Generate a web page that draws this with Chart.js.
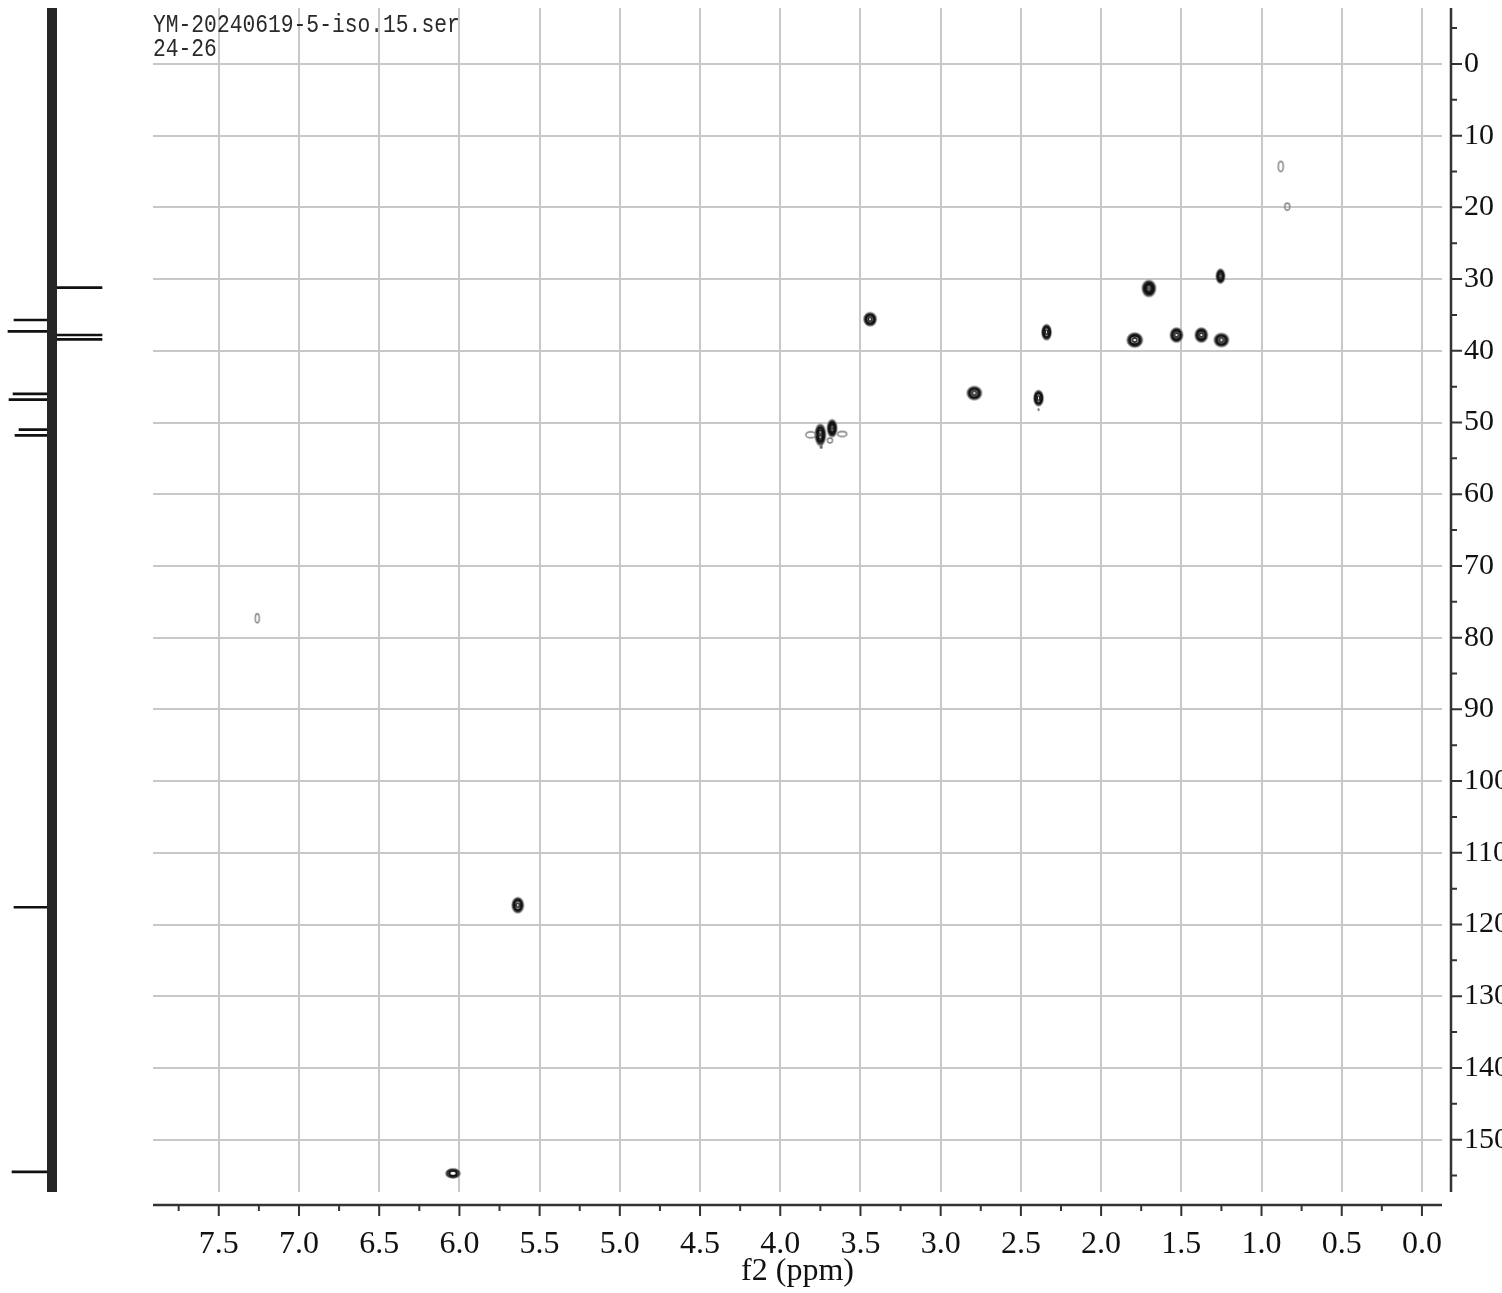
<!DOCTYPE html>
<html>
<head>
<meta charset="utf-8">
<script src="https://cdn.jsdelivr.net/npm/chart.js@4.4.1/dist/chart.umd.min.js"></script>
<style>
  html, body { margin: 0; padding: 0; background: #ffffff; }
  body { width: 1502px; height: 1293px; position: relative; overflow: hidden; }
  #main { position: absolute; left: 0; top: 0; }
  #proj { position: absolute; left: 0; top: 8px; }
  #label { position: absolute; left: 153px; top: 13px; font-family: "Liberation Mono", monospace;
           font-size: 21.3px; line-height: 19px; color: #2a2a2a; white-space: pre;
           transform: scaleY(1.25); transform-origin: 0 0; }
</style>
</head>
<body>
<canvas id="proj" width="150" height="1184"></canvas>
<canvas id="main" width="1502" height="1293"></canvas>
<div id="label">YM-20240619-5-iso.15.ser
24-26</div>
<script>
// ---------- data ----------
// HSQC cross peaks: f2 (1H, ppm) and f1 (13C, ppm)
const peakF2 = [0.88, 0.84, 1.256, 1.702, 3.44, 2.34, 1.79, 1.53, 1.375, 1.25, 2.79, 2.39, 2.39, 3.75, 3.677, 3.81, 3.614, 3.69, 3.745, 7.26, 5.636, 6.04];
const peakF1 = [14.3, 19.9, 29.6, 31.3, 35.6, 37.4, 38.5, 37.8, 37.8, 38.5, 45.9, 46.6, 48.2, 51.7, 50.8, 51.7, 51.6, 52.5, 53.4, 77.3, 117.3, 154.7];

// 1D 13C projection (left): peak positions (ppm) and signed intensities (arb.)
const projF1 = [31.2, 35.7, 37.3, 37.8, 38.4, 46.0, 46.8, 51.0, 51.8, 117.6, 154.5];
const projInt = [50, -38, -44, 50, 50, -39, -43, -33, -37, -38, -40];

// axis ticks
const xMajor = [7.5, 7.0, 6.5, 6.0, 5.5, 5.0, 4.5, 4.0, 3.5, 3.0, 2.5, 2.0, 1.5, 1.0, 0.5, 0.0];
const xMinor = [7.75, 7.25, 6.75, 6.25, 5.75, 5.25, 4.75, 4.25, 3.75, 3.25, 2.75, 2.25, 1.75, 1.25, 0.75, 0.25];
const yMajor = [0, 10, 20, 30, 40, 50, 60, 70, 80, 90, 100, 110, 120, 130, 140, 150];
const yMinor = [-5, 5, 15, 25, 35, 45, 55, 65, 75, 85, 95, 105, 115, 125, 135, 145, 155];

const xRange = [-0.125, 7.91];
const yRange = [-7.8, 157.3];

// ---------- styles (contour glyph sizes in px, number of contour levels) ----------
const peakStyle = [
  [5, 10, 1], [5, 7, 1], [8, 14, 3], [13, 16, 4], [12, 13, 3], [9, 15, 3], [15, 14, 3], [12, 14, 3],
  [12, 14, 3], [14, 13, 3], [14, 13, 3], [9, 15, 3], [2, 3, 0], [10, 21, 4], [9, 17, 4], [10, 6, 1],
  [9, 5, 1], [5, 5, 1], [3, 4, 0], [4, 9, 1], [11, 15, 3], [14, 9, 2]
];

function contourGlyph(w, h, levels) {
  const pad = 3;
  const c = document.createElement('canvas');
  c.width = Math.ceil(w + pad * 2);
  c.height = Math.ceil(h + pad * 2);
  const g = c.getContext('2d');
  const cx = c.width / 2, cy = c.height / 2;
  const ring = (f, color, lw) => {
    g.strokeStyle = color; g.lineWidth = lw;
    g.beginPath();
    g.ellipse(cx, cy, Math.max(0.7, (w / 2) * f), Math.max(0.7, (h / 2) * f), 0, 0, Math.PI * 2);
    g.stroke();
  };
  if (levels === 0) {
    g.fillStyle = '#666';
    g.beginPath(); g.ellipse(cx, cy, w / 2, h / 2, 0, 0, Math.PI * 2); g.fill();
    return c;
  }
  if (levels === 1) { ring(1, '#777', 1.3); return c; }
  ring(1, '#808080', 1.6);
  ring(0.85, '#333', 1.6);
  if (levels === 2) { ring(0.55, '#111', 2.2); return c; }
  ring(0.66, '#111', 2.6);
  if (levels === 3) { ring(0.3, '#222', 1.6); return c; }
  ring(0.42, '#111', 1.8);
  ring(0.16, '#333', 1.2);
  return c;
}
const glyphs = peakStyle.map(s => contourGlyph(s[0], s[1], s[2]));

// ---------- left projection ----------
new Chart(document.getElementById('proj'), {
  type: 'bar',
  data: {
    datasets: [
      {
        type: 'line',
        data: [{ x: 0, y: yRange[0] }, { x: 0, y: yRange[1] }],
        borderColor: '#262626', borderWidth: 10, pointRadius: 0
      },
      {
        type: 'bar',
        data: projF1.map((f, i) => ({ y: f, x: projInt[i] })),
        backgroundColor: '#111', barThickness: 2
      }
    ]
  },
  options: {
    indexAxis: 'y',
    responsive: false, animation: false,
    layout: { padding: 0 },
    plugins: { legend: { display: false }, tooltip: { enabled: false } },
    scales: {
      x: { type: 'linear', min: -52, max: 98, display: false },
      y: { type: 'linear', reverse: true, offset: false, min: yRange[0], max: yRange[1], display: false }
    }
  }
});

// ---------- main 2D plot ----------
const offsetAxes = {
  id: 'offsetAxes',
  afterDraw(chart) {
    const { ctx, chartArea: ca, scales: { x, y } } = chart;
    ctx.save();
    ctx.strokeStyle = '#333';
    ctx.lineWidth = 2.5;
    const axY = ca.bottom + 13;
    ctx.beginPath();
    ctx.moveTo(ca.left, axY); ctx.lineTo(ca.right, axY);
    ctx.stroke();
    ctx.lineWidth = 2;
    ctx.beginPath();
    xMajor.forEach(v => { const p = x.getPixelForValue(v); ctx.moveTo(p, axY); ctx.lineTo(p, axY + 11); });
    xMinor.forEach(v => { const p = x.getPixelForValue(v); ctx.moveTo(p, axY); ctx.lineTo(p, axY + 6); });
    ctx.stroke();
    const axX = ca.right + 9;
    ctx.lineWidth = 2.5;
    ctx.beginPath();
    ctx.moveTo(axX, ca.top); ctx.lineTo(axX, ca.bottom);
    ctx.stroke();
    ctx.lineWidth = 2;
    ctx.beginPath();
    yMajor.forEach(v => { const p = y.getPixelForValue(v); ctx.moveTo(axX, p); ctx.lineTo(axX + 11, p); });
    yMinor.forEach(v => { const p = y.getPixelForValue(v); ctx.moveTo(axX, p); ctx.lineTo(axX + 6, p); });
    ctx.stroke();
    ctx.restore();
  }
};

new Chart(document.getElementById('main'), {
  type: 'scatter',
  data: {
    datasets: [{
      data: peakF2.map((v, i) => ({ x: v, y: peakF1[i] })),
      pointStyle: glyphs,
      pointRadius: 6,
      clip: false
    }]
  },
  options: {
    responsive: false, animation: false,
    layout: { padding: { left: 153, top: 8, right: 0, bottom: 0 } },
    plugins: { legend: { display: false }, tooltip: { enabled: false } },
    scales: {
      x: {
        type: 'linear', reverse: true, min: xRange[0], max: xRange[1],
        afterBuildTicks: s => { s.ticks = xMajor.map(v => ({ value: v })); },
        afterFit: s => { s.height = 101; s.paddingLeft = 0; s.paddingRight = 0; },
        grid: { color: '#c8c8c8', lineWidth: 2, drawTicks: false },
        border: { display: false },
        ticks: {
          autoSkip: false, maxRotation: 0, padding: 33, color: '#111',
          font: { family: 'Liberation Serif', size: 32 },
          callback: v => Number(v).toFixed(1)
        },
        title: {
          display: true, text: 'f2 (ppm)', color: '#111',
          font: { family: 'Liberation Serif', size: 32 },
          padding: { top: 0, bottom: 2 }
        }
      },
      y: {
        type: 'linear', position: 'right', reverse: true, min: yRange[0], max: yRange[1],
        afterBuildTicks: s => { s.ticks = yMajor.map(v => ({ value: v })); },
        afterFit: s => { s.width = 60; s.paddingTop = 0; s.paddingBottom = 0; },
        grid: { color: '#c8c8c8', lineWidth: 2, drawTicks: false },
        border: { display: false },
        ticks: {
          autoSkip: false, padding: 22, color: '#111',
          font: { family: 'Liberation Serif', size: 30 },
          callback: v => String(v)
        }
      }
    }
  },
  plugins: [offsetAxes]
});
</script>
</body>
</html>
